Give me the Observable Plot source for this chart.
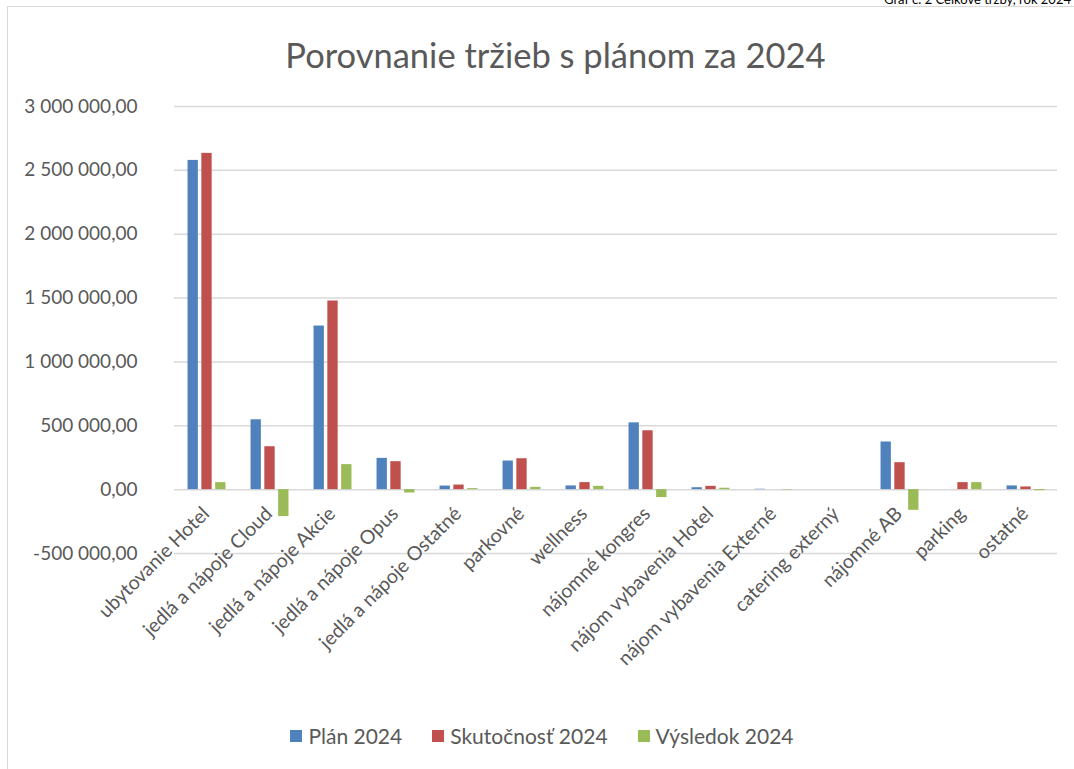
<!DOCTYPE html>
<html>
<head>
<meta charset="utf-8">
<script src="https://cdn.jsdelivr.net/npm/d3@7"></script>
<script src="https://cdn.jsdelivr.net/npm/@observablehq/plot@0.6"></script>
<style>
  html, body { margin: 0; padding: 0; background: #fff; overflow: hidden; }
  body { width: 1074px; height: 769px; position: relative; font-family: Lato, "Open Sans", sans-serif; color: #595959; }
  #frame { position: absolute; left: 7px; top: 6px; width: 1100px; height: 800px; border: 1.5px solid #d9d9d9; box-sizing: border-box; }
  #caption { position: absolute; right: 3px; top: -9px; font-size: 13px; color: #000; white-space: nowrap; }
  #title { position: absolute; left: 0; width: 1111px; top: 34px; text-align: center; font-size: 34.5px; color: #595959; }
  #chart { position: absolute; left: 0; top: 85px; }
  #legend { position: absolute; left: 0; width: 1084px; top: 723px; display: flex; justify-content: center; gap: 30px; font-size: 21px; color: #595959; }
  #legend span.item { display: flex; align-items: center; gap: 6px; }
  #legend span.sw { width: 12px; height: 12px; display: inline-block; }
</style>
</head>
<body>
<div id="frame"></div>
<div id="caption">Graf č. 2 Celkové tržby, rok 2024</div>
<div id="title">Porovnanie tržieb s plánom za 2024</div>
<div id="chart"></div>
<div id="legend"></div>
<script>
const categories = ["ubytovanie Hotel","jedlá a nápoje Cloud","jedlá a nápoje Akcie","jedlá a nápoje Opus","jedlá a nápoje Ostatné","parkovné","wellness","nájomné kongres","nájom vybavenia Hotel","nájom vybavenia Externé","catering externý","nájomné AB","parking","ostatné"];
const plan2024 = [2578000, 547000, 1281000, 245000, 28000, 224000, 29000, 523000, 15000, 3000, 0, 373000, 0, 29000];
const skutocnost2024 = [2633000, 336000, 1477000, 219000, 36000, 242000, 55000, 461000, 26000, 0, 0, 211000, 55000, 21000];
const vysledok2024 = [55000, -211000, 196000, -26000, 8000, 18000, 26000, -62000, 11000, -3000, 0, -162000, 55000, -8000];
const seriesNames = ["Plán 2024", "Skutočnosť 2024", "Výsledok 2024"];
const seriesColors = ["#4f81bd", "#c0504d", "#9bbb59"];
const yTicks = [-500000, 0, 500000, 1000000, 1500000, 2000000, 2500000, 3000000];

const seriesValues = [plan2024, skutocnost2024, vysledok2024];
const rows = categories.map((c, i) => ({category: c, values: seriesValues.map(s => s[i])}));

const fmt = v => d3.format(",.2f")(v).replace(/,/g, " ").replace(".", ",").replace("−", "-");

const width = 1074, marginLeft = 174, marginRight = 17;
const step = (width - marginLeft - marginRight) / categories.length;
const barW = 10.4, gap = 3.4;
const groupW = 3 * barW + 2 * gap;
const start = (step - groupW) / 2;

const barMarks = seriesNames.map((name, k) => {
  const left = start + k * (barW + gap);
  return Plot.barY(rows, {
    x: "category",
    y: d => d.values[k],
    fill: seriesColors[k],
    insetLeft: left,
    insetRight: step - left - barW
  });
});

const chart = Plot.plot({
  width,
  height: 640,
  marginLeft,
  marginRight,
  marginTop: 21,
  marginBottom: 172,
  style: {fontFamily: "Lato, 'Open Sans', sans-serif", color: "#595959", background: "transparent"},
  x: {domain: categories, padding: 0, axis: null},
  y: {domain: [-500000, 3000000], ticks: yTicks, tickFormat: fmt, tickSize: 0, tickPadding: 37, label: null},
  marks: [
    Plot.ruleY(yTicks, {stroke: "#d9d9d9", strokeWidth: 1.5}),
    ...barMarks,
    Plot.text(categories, {x: d => d, y: 0, text: d => d, rotate: -45, textAnchor: "end", dy: 21, dx: -1, fontSize: 19.5, fill: "#595959"})
  ]
});
const yAxis = chart.querySelector("g[aria-label='y-axis tick label']") || chart.querySelector("g[aria-label='y-axis']");
if (yAxis) {
  yAxis.setAttribute("font-size", 19);
  yAxis.setAttribute("fill", "#595959");
  yAxis.querySelectorAll("text").forEach(t => t.setAttribute("font-size", 19));
}
document.getElementById("chart").appendChild(chart);

const legend = document.getElementById("legend");
seriesNames.forEach((n, k) => {
  const item = document.createElement("span");
  item.className = "item";
  const sw = document.createElement("span");
  sw.className = "sw";
  sw.style.background = seriesColors[k];
  item.appendChild(sw);
  item.appendChild(document.createTextNode(n));
  legend.appendChild(item);
});
</script>
</body>
</html>
